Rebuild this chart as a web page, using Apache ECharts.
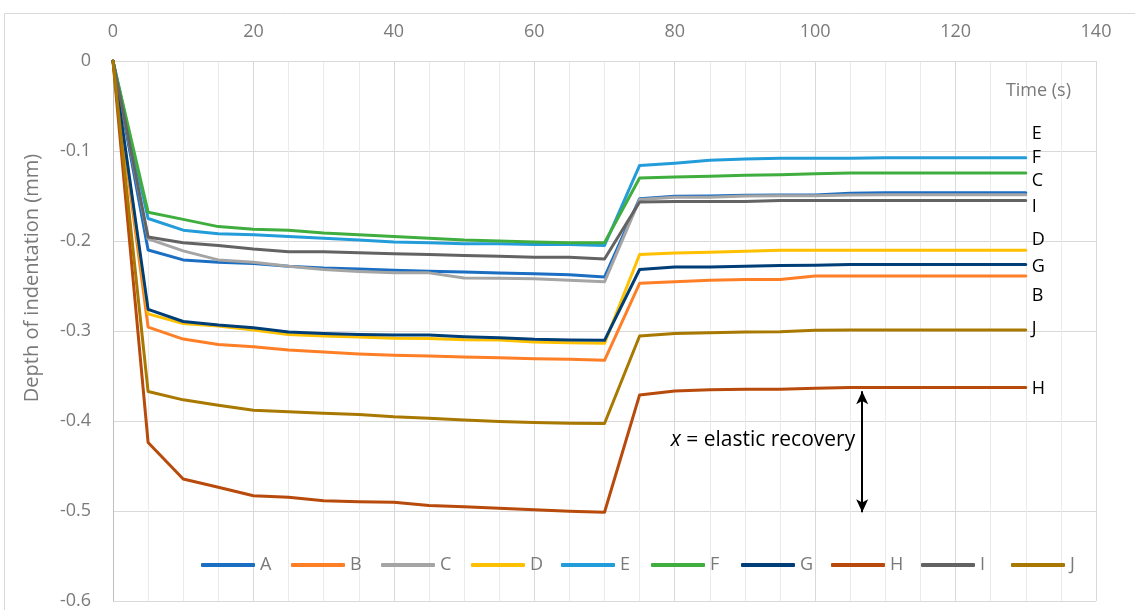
<!DOCTYPE html>
<html>
<head>
<meta charset="utf-8">
<title>Depth of indentation vs time</title>
<script src="https://cdn.jsdelivr.net/npm/echarts@6/dist/echarts.min.js"></script>
<style>
  html, body { margin: 0; padding: 0; background: #ffffff; }
  #chart { width: 1135px; height: 610px; }
</style>
</head>
<body>
<div id="chart"></div>
<script>
// Sampling times (s): loading 0–70 s, unloading/recovery 75–130 s
const times = [0, 5, 10, 15, 20, 25, 30, 35, 40, 45, 50, 55, 60, 65, 70,
               75, 80, 85, 90, 95, 100, 105, 110, 115, 120, 125, 130];

// Depth of indentation (mm) per specimen
const seriesA = [0, -0.210, -0.221, -0.2235, -0.225, -0.228, -0.230, -0.231, -0.2325, -0.2335, -0.2345, -0.2355, -0.2365, -0.2375, -0.240,
                 -0.153, -0.1504, -0.150, -0.1493, -0.149, -0.149, -0.147, -0.1463, -0.1463, -0.1463, -0.1463, -0.1463];
const seriesB = [0, -0.2957, -0.309, -0.3149, -0.3175, -0.3212, -0.3234, -0.3256, -0.327, -0.3278, -0.3289, -0.3296, -0.3307, -0.3315, -0.3326,
                 -0.247, -0.2454, -0.2435, -0.2428, -0.2428, -0.239, -0.239, -0.239, -0.239, -0.239, -0.239, -0.239];
const seriesC = [0, -0.1977, -0.211, -0.221, -0.2235, -0.228, -0.2317, -0.234, -0.2354, -0.2354, -0.241, -0.2415, -0.242, -0.2435, -0.2454,
                 -0.154, -0.1515, -0.1515, -0.150, -0.1497, -0.1497, -0.149, -0.1486, -0.1486, -0.1486, -0.1486, -0.1486];
const seriesD = [0, -0.281, -0.2916, -0.2945, -0.299, -0.304, -0.3056, -0.3067, -0.308, -0.3082, -0.3097, -0.310, -0.3123, -0.313, -0.3137,
                 -0.215, -0.2132, -0.2125, -0.2114, -0.2103, -0.2103, -0.2103, -0.2103, -0.2103, -0.2103, -0.2103, -0.2103];
const seriesE = [0, -0.175, -0.188, -0.192, -0.193, -0.195, -0.197, -0.199, -0.201, -0.202, -0.203, -0.203, -0.204, -0.204, -0.205,
                 -0.116, -0.1135, -0.1104, -0.109, -0.108, -0.108, -0.108, -0.1075, -0.1075, -0.1075, -0.1075, -0.1075];
const seriesF = [0, -0.168, -0.176, -0.184, -0.187, -0.188, -0.191, -0.193, -0.195, -0.197, -0.199, -0.200, -0.201, -0.202, -0.202,
                 -0.130, -0.129, -0.128, -0.127, -0.1264, -0.1253, -0.1245, -0.1245, -0.1245, -0.1245, -0.1245, -0.1245];
const seriesG = [0, -0.276, -0.2894, -0.2934, -0.2964, -0.3012, -0.3027, -0.3038, -0.3045, -0.3045, -0.3063, -0.3075, -0.3093, -0.310, -0.3104,
                 -0.2317, -0.229, -0.229, -0.228, -0.2273, -0.227, -0.2262, -0.2262, -0.2262, -0.2262, -0.2262, -0.2262];
const seriesH = [0, -0.4239, -0.4645, -0.4737, -0.483, -0.4848, -0.4885, -0.4896, -0.4903, -0.494, -0.4952, -0.497, -0.4985, -0.5003, -0.5014,
                 -0.371, -0.3666, -0.3654, -0.3647, -0.3647, -0.3636, -0.3629, -0.3629, -0.3629, -0.3629, -0.3629, -0.3629];
const seriesI = [0, -0.1955, -0.202, -0.205, -0.209, -0.212, -0.212, -0.213, -0.2143, -0.215, -0.216, -0.217, -0.218, -0.218, -0.220,
                 -0.1567, -0.156, -0.156, -0.156, -0.155, -0.155, -0.155, -0.155, -0.155, -0.155, -0.155, -0.155];
const seriesJ = [0, -0.3673, -0.3765, -0.3825, -0.388, -0.3898, -0.3914, -0.3928, -0.3954, -0.3969, -0.3988, -0.4006, -0.4017, -0.4024, -0.4028,
                 -0.3056, -0.3027, -0.302, -0.3012, -0.3008, -0.2993, -0.299, -0.299, -0.299, -0.299, -0.299, -0.299];

const names = ['A', 'B', 'C', 'D', 'E', 'F', 'G', 'H', 'I', 'J'];
const values = [seriesA, seriesB, seriesC, seriesD, seriesE, seriesF, seriesG, seriesH, seriesI, seriesJ];
const colors = ['#1B6EC2', '#FF7F27', '#A5A5A5', '#FFC000', '#239CDA',
                '#3FAE3F', '#003E78', '#B84A0B', '#636363', '#A97800'];

// Specimens labelled at the right end of their curve, with a vertical nudge (px)
const endLabelShift = { B: 20, C: -14, D: -10, E: -24, F: -15, G: 2, H: 1, I: 6, J: -1 };

// Elastic recovery arrow for specimen H
const recoveryTime = 106.7;
const recoveryTop = -0.367;
const recoveryBottom = -0.5015;

const FONT = '"Open Sans", "Liberation Sans", sans-serif';
const GREY_TEXT = '#7A7A7A';

const chart = echarts.init(document.getElementById('chart'), null, { renderer: 'canvas' });

const series = names.map((n, i) => {
  const labelled = Object.prototype.hasOwnProperty.call(endLabelShift, n);
  const s = {
    name: n,
    type: 'line',
    data: times.map((t, k) => [t, values[i][k]]),
    showSymbol: false,
    symbol: 'none',
    lineStyle: { width: 3, color: colors[i], cap: 'round', join: 'round' },
    itemStyle: { color: colors[i] },
    emphasis: { disabled: true },
    endLabel: {
      show: labelled,
      formatter: n,
      color: '#000000',
      fontFamily: FONT,
      fontSize: 18,
      distance: 6,
      offset: [0, labelled ? endLabelShift[n] : 0]
    }
  };
  if (n === 'H') {
    s.markLine = {
      silent: true,
      symbol: ['arrow', 'arrow'],
      symbolSize: [9, 13],
      lineStyle: { color: '#000000', width: 2, type: 'solid' },
      label: { show: false },
      data: [[
        { coord: [recoveryTime, recoveryTop] },
        { coord: [recoveryTime, recoveryBottom] }
      ]]
    };
  }
  return s;
});

// One legend block per specimen so the entries sit on an even pitch
const legendPitch = 90;
const legends = names.map((n, i) => ({
  data: [n],
  left: 201 + i * legendPitch,
  top: 556,
  icon: 'roundRect',
  itemWidth: 54,
  itemHeight: 4,
  itemGap: 0,
  padding: 0,
  textStyle: { color: GREY_TEXT, fontSize: 18, fontFamily: FONT },
  selectedMode: false
}));

const option = {
  animation: false,
  backgroundColor: '#ffffff',
  textStyle: { fontFamily: FONT },
  grid: { left: 113, top: 61, width: 983, height: 540, containLabel: false },
  xAxis: {
    type: 'value',
    position: 'top',
    min: 0, max: 140, interval: 20,
    axisLine: { show: true, onZero: false, lineStyle: { color: '#D9D9D9', width: 1 } },
    axisTick: { show: false },
    axisLabel: { color: GREY_TEXT, fontSize: 18, fontFamily: FONT, margin: 20 },
    splitLine: { show: true, lineStyle: { color: '#D9D9D9', width: 1 } },
    minorTick: { show: true, splitNumber: 4, length: 0, lineStyle: { width: 0 } },
    minorSplitLine: { show: true, lineStyle: { color: '#EBEBEB', width: 1 } }
  },
  yAxis: {
    type: 'value',
    min: -0.6, max: 0, interval: 0.1,
    axisLine: { show: true, onZero: false, lineStyle: { color: '#BFBFBF', width: 1 } },
    axisTick: { show: false },
    axisLabel: { color: GREY_TEXT, fontSize: 18, fontFamily: FONT, margin: 22 },
    splitLine: { show: true, lineStyle: { color: '#D9D9D9', width: 1 } }
  },
  legend: legends,
  series: series
};

chart.setOption(option);

// Free-standing text: outer frame, axis titles and the recovery note
const arrowPx = chart.convertToPixel({ gridIndex: 0 }, [recoveryTime, (recoveryTop + recoveryBottom) / 2]);
chart.setOption({
  graphic: [
    {
      type: 'rect', silent: true, z: -1,
      shape: { x: 4.5, y: 13.5, width: 1300, height: 800 },
      style: { fill: null, stroke: '#D9D9D9', lineWidth: 1 }
    },
    {
      type: 'text', silent: true,
      x: 1071, y: 91,
      style: { text: 'Time (s)', fill: GREY_TEXT, font: '18px ' + FONT, align: 'right', verticalAlign: 'middle' }
    },
    {
      type: 'text', silent: true,
      x: 32, y: 278, rotation: Math.PI / 2,
      style: { text: 'Depth of indentation (mm)', fill: GREY_TEXT, font: '20px ' + FONT, align: 'center', verticalAlign: 'middle' }
    },
    {
      type: 'text', silent: true,
      x: arrowPx[0] - 7, y: arrowPx[1] - 12,
      style: {
        text: '{i|x} = elastic recovery',
        align: 'right', verticalAlign: 'middle',
        fill: '#000000', font: '21px ' + FONT,
        rich: { i: { fontStyle: 'italic', fontSize: 21, fontFamily: FONT, fill: '#000000' } }
      }
    }
  ]
});
</script>
</body>
</html>
